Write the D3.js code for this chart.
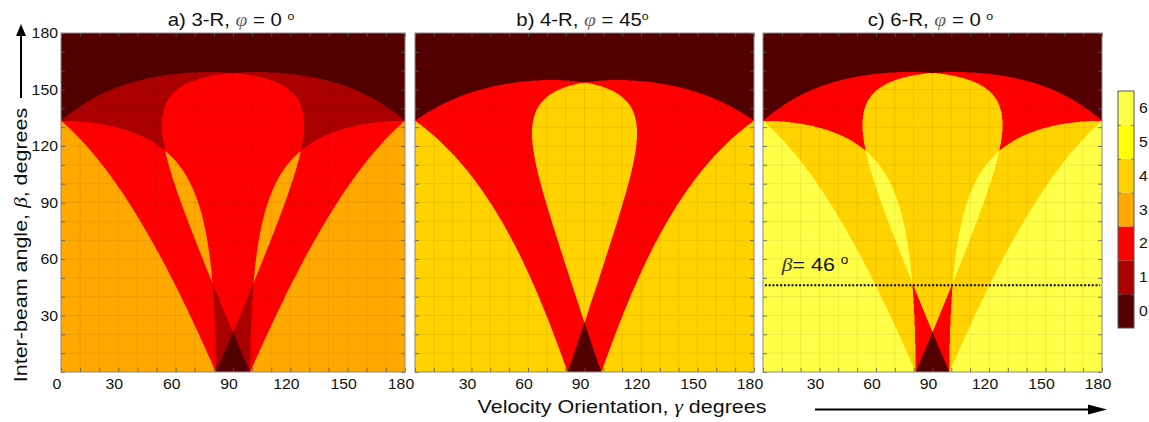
<!DOCTYPE html>
<html><head><meta charset="utf-8">
<script src="https://cdn.jsdelivr.net/npm/d3@7"></script>
<style>
body{margin:0;background:#fff}
svg{display:block}
text{font-family:"Liberation Sans",Arial,sans-serif;fill:#111}
</style>
</head><body>
<svg id="chart" width="1149" height="422"></svg>
<script>
// ---- data / model parameters ----
const receiverCounts = [3, 4, 6];            // receivers per panel
const rotations = [0, 45, 0];                // φ of the receiver ring, degrees
const panelLabels = ["a) 3-R, ", "b) 4-R, ", "c) 6-R, "];
const phiLabels = ["0", "45", "0"];
const phiSpace = [" ", "", " "];
const failThreshold = 0.313;                 // |v·(t+r)| below which a receiver fails
const levels = [0, 1, 2, 3, 4, 5, 6];
const levelColors = ["#520000", "#aa0000", "#ff0000", "#ffa800", "#ffd200", "#ffff00", "#ffff48"];
const xTicksFirst = [0, 30, 60, 90, 120, 150, 180];
const xTicksOther = [30, 60, 90, 120, 150, 180];
const yTicks = [30, 60, 90, 120, 150, 180];
const betaMark = [46];

// ---- layout ----
const svg = d3.select("#chart");
const panelX = [[61, 405], [415, 754], [763, 1102]];
const plotTop = 33, plotBottom = 372;
const SX = 1.13;   // horizontal stretch of the lettering
const ys = d3.scaleLinear().domain([0, 180]).range([plotBottom, plotTop]);
const colorOf = d3.scaleOrdinal().domain(levels).range(levelColors);
const rad = Math.PI / 180;

function countField(N, phi, nx, ny) {
  const vals = new Float64Array(nx * ny);
  const sa = d3.range(N).map(i => Math.sin((phi + 360 * i / N) * rad));
  for (let j = 0; j < ny; j++) {
    const b = (180 - (j + 0.5) * 180 / ny) * rad;
    const sb = Math.sin(b), cb1 = 1 + Math.cos(b);
    for (let i = 0; i < nx; i++) {
      const gm = (i + 0.5) * 180 / nx * rad;
      const sg = Math.sin(gm), cg = Math.cos(gm);
      let c = 0;
      for (const s of sa) if (Math.abs(sg * sb * s + cg * cb1) >= failThreshold) c++;
      vals[j * nx + i] = c;
    }
  }
  return vals;
}

function stretchedText(parent, x, y, size, anchor, rotate) {
  return parent.append("text")
    .attr("transform", `translate(${x},${y})` + (rotate ? ` rotate(${rotate})` : "") + ` scale(${SX},1)`)
    .attr("text-anchor", anchor)
    .style("font-size", size + "px");
}

const defs = svg.append("defs");

receiverCounts.forEach((N, p) => {
  const [x0, x1] = panelX[p];
  const xs = d3.scaleLinear().domain([0, 180]).range([x0, x1]);
  const g = svg.append("g");
  const clipId = "clip" + p;
  defs.append("clipPath").attr("id", clipId).append("rect")
    .attr("x", x0).attr("y", plotTop).attr("width", x1 - x0).attr("height", plotBottom - plotTop);

  const nx = Math.round((x1 - x0) * 2), ny = Math.round((plotBottom - plotTop) * 2);
  const vals = countField(N, rotations[p], nx, ny);
  const present = Array.from(new Set(vals)).sort((a, b) => a - b);
  const plot = g.append("g").attr("clip-path", `url(#${clipId})`);
  plot.append("rect").attr("x", x0).attr("y", plotTop)
    .attr("width", x1 - x0).attr("height", plotBottom - plotTop)
    .attr("fill", colorOf(present[0]));
  const ths = present.slice(1).map((v, k) => (present[k] + v) / 2);
  const cont = d3.contours().size([nx, ny]).thresholds(ths)(vals);
  const proj = d3.geoTransform({
    point(x, y) { this.stream.point(xs(x / nx * 180), ys(180 - y / ny * 180)); }
  });
  const path = d3.geoPath(proj);
  plot.selectAll("path.lvl").data(cont).join("path")
    .attr("class", "lvl").attr("d", path)
    .attr("fill", (d, k) => colorOf(present[k + 1]));

  // grid
  const gridV = d3.range(10, 180, 10);
  plot.selectAll("line.gx").data(gridV).join("line")
    .attr("x1", d => xs(d)).attr("x2", d => xs(d))
    .attr("y1", plotTop).attr("y2", plotBottom)
    .attr("stroke", "#000").attr("stroke-opacity", 0.07).attr("stroke-width", 1);
  plot.selectAll("line.gy").data(gridV).join("line")
    .attr("y1", d => ys(d)).attr("y2", d => ys(d))
    .attr("x1", x0).attr("x2", x1)
    .attr("stroke", "#000").attr("stroke-opacity", 0.07).attr("stroke-width", 1);

  // inward ticks
  const tv = d3.range(0, 181, 10);
  const axes = [
    [d3.axisLeft(ys), `translate(${x0},0)`],
    [d3.axisRight(ys), `translate(${x1},0)`],
    [d3.axisBottom(xs), `translate(0,${plotBottom})`],
    [d3.axisTop(xs), `translate(0,${plotTop})`]
  ];
  axes.forEach(([ax, tr]) => {
    const a = g.append("g").attr("transform", tr)
      .call(ax.tickValues(tv).tickSize(-4).tickFormat(""));
    a.select(".domain").remove();
    a.selectAll("line").attr("stroke", "#555").attr("stroke-width", 0.8);
  });

  g.append("rect").attr("x", x0).attr("y", plotTop)
    .attr("width", x1 - x0).attr("height", plotBottom - plotTop)
    .attr("fill", "none").attr("stroke", "#888").attr("stroke-width", 1);

  // x tick labels
  const xt = p === 0 ? xTicksFirst : xTicksOther;
  xt.forEach(v => {
    stretchedText(g, xs(v) - 4, 389, 14, "middle").text(v);
  });
  if (p === 0) {
    yTicks.forEach(v => {
      stretchedText(g, x0 - 3, ys(v) + 5, 14, "end").text(v);
    });
  }

  // title
  const t = stretchedText(g, (x0 + x1) / 2 - 2, 26, 18, "middle");
  t.append("tspan").text(panelLabels[p]);
  t.append("tspan").style("font-style", "italic").style("font-family", "'Liberation Serif',serif")
    .style("fill", "#666").style("font-size", "19px").text("φ");
  t.append("tspan").text(" = " + phiLabels[p] + phiSpace[p]);
  t.append("tspan").attr("dy", -6).style("font-size", "11px").text("o");

  if (p === 2) {
    betaMark.forEach(b => {
      g.append("line").attr("x1", xs(1)).attr("x2", xs(179))
        .attr("y1", ys(b)).attr("y2", ys(b))
        .attr("stroke", "#000").attr("stroke-width", 2).attr("stroke-dasharray", "2,1.8");
      const bt = stretchedText(g, xs(10), ys(b) - 14, 19, "start");
      bt.append("tspan").style("font-style", "italic").style("font-family", "'Liberation Serif',serif")
        .style("fill", "#333").text("β");
      bt.append("tspan").text("= " + b + " ");
      bt.append("tspan").attr("dy", -7).style("font-size", "12px").text("o");
    });
  }
});

// colorbar
const cbX0 = 1118, cbX1 = 1134;
const cs = d3.scaleLinear().domain([-0.5, 6.5]).range([328, 91]);
const cb = svg.append("g");
cb.selectAll("rect.c").data(levels).join("rect")
  .attr("x", cbX0).attr("width", cbX1 - cbX0)
  .attr("y", d => cs(d + 0.5)).attr("height", d => cs(d - 0.5) - cs(d + 0.5))
  .attr("fill", d => colorOf(d));
[d3.axisLeft(cs), d3.axisRight(cs)].forEach((ax, k) => {
  const a = cb.append("g").attr("transform", `translate(${k ? cbX1 : cbX0},0)`)
    .call(ax.tickValues(d3.range(0.5, 6, 1)).tickSize(-3).tickFormat(""));
  a.select(".domain").remove();
  a.selectAll("line").attr("stroke", "#666").attr("stroke-width", 0.8);
});
cb.append("rect").attr("x", cbX0).attr("y", cs(6.5)).attr("width", cbX1 - cbX0)
  .attr("height", cs(-0.5) - cs(6.5)).attr("fill", "none").attr("stroke", "#555").attr("stroke-width", 1);
levels.forEach(l => stretchedText(cb, cbX1 + 5, cs(l) + 5, 14, "start").text(l));

// axis titles
const xl = stretchedText(svg, 622, 413, 19, "middle");
xl.append("tspan").text("Velocity Orientation, ");
xl.append("tspan").style("font-style", "italic").style("font-family", "'Liberation Serif',serif").text("γ");
xl.append("tspan").text(" degrees");

const yl = stretchedText(svg, 27, 245, 19, "middle", -90);
yl.append("tspan").text("Inter-beam angle, ");
yl.append("tspan").style("font-style", "italic").style("font-family", "'Liberation Serif',serif").text("β");
yl.append("tspan").text(", degrees");

// arrows
svg.append("line").attr("x1", 21).attr("x2", 21).attr("y1", 98).attr("y2", 34)
  .attr("stroke", "#000").attr("stroke-width", 2);
svg.append("path").attr("d", "M21,24 L16,36 L26,36 Z").attr("fill", "#000");
svg.append("line").attr("x1", 815).attr("x2", 1092).attr("y1", 409.5).attr("y2", 409.5)
  .attr("stroke", "#000").attr("stroke-width", 2);
svg.append("path").attr("d", "M1107,409.5 L1088,404.5 L1088,414.5 Z").attr("fill", "#000");
</script>
</body></html>
